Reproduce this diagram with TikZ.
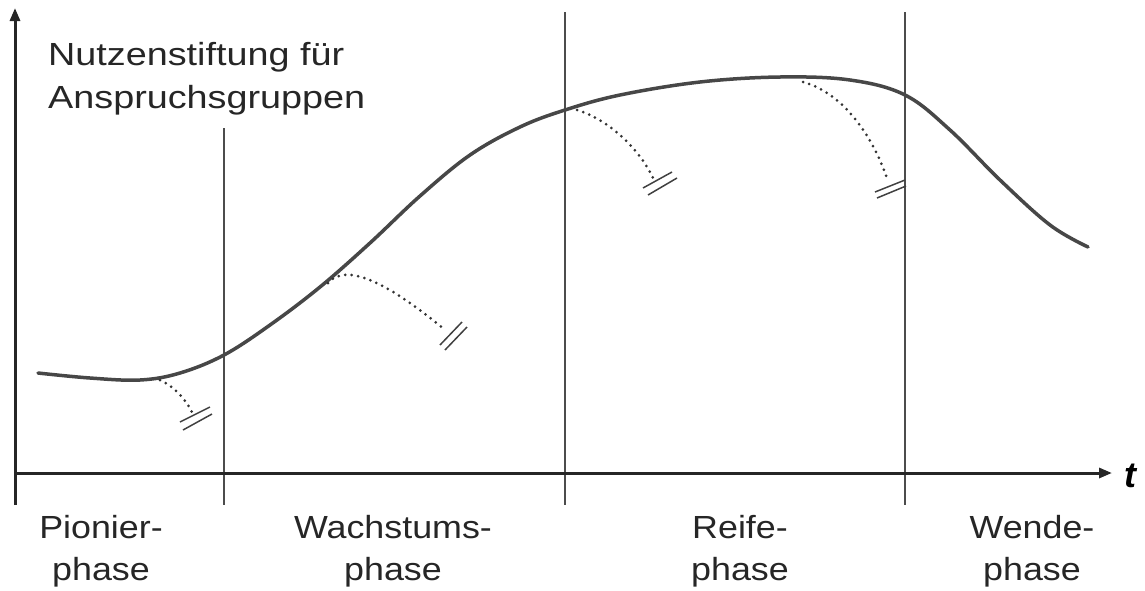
\documentclass[tikz,border=0pt]{standalone}
\usepackage{fontspec}
\setmainfont{Liberation Sans}
\newfontfamily\widefont[FakeStretch=1.18]{Liberation Sans}
\newfontfamily\phasefont[FakeStretch=1.12]{Liberation Sans}
\usetikzlibrary{arrows.meta}
\begin{document}
\begin{tikzpicture}[x=1pt,y=-1pt,
  axis/.style={line width=3pt,draw=black!85,-{Triangle[length=13pt,width=10pt]}},
  divider/.style={line width=1.1pt,draw=black!70},
  lifecurve/.style={line width=3.5pt,draw=black!72,line cap=round},
  branch/.style={line width=3pt,draw=black!80,line cap=round,dash pattern=on 0pt off 6.5pt},
  breakmark/.style={line width=1.5pt,draw=black!75},
  phaselbl/.style={font=\phasefont\fontsize{32}{42}\selectfont,align=center,inner sep=0pt,anchor=north,text=black!85},
  ylbl/.style={font=\widefont\fontsize{32}{43}\selectfont,align=left,inner sep=0pt,anchor=north west,text=black!85}]
\useasboundingbox (0,0) rectangle (1145,590);

% dividers
\draw[divider] (224,128) -- (224,505);
\draw[divider] (565,12) -- (565,505);
\draw[divider] (905,12) -- (905,505);

% axes
\coordinate (origin) at (15,473);
\coordinate (ybot) at (15,505);
\coordinate (ytop) at (15,8);
\coordinate (xend) at (1112,473);
\draw[axis] (ybot) -- (ytop);
\draw[axis] (origin) -- (xend);
\node[font=\fontsize{36}{36}\selectfont\bfseries\itshape,inner sep=0pt] (tlbl) at (1130,476) {t};

% main curve
\draw[lifecurve] plot[smooth,tension=0.6] coordinates {(38,373) (90,378) (140,380) (180,373) (224,355) (270,325) (320,287) (370,243) (420,196) (470,155) (520,127) (565,110) (620,95) (700,82) (780,77) (850,80) (905,95) (950,130) (1000,180) (1050,225) (1088,247)};

% dotted branches
\coordinate (b1) at (160,380); \coordinate (e1) at (192,412);
\coordinate (b2) at (328,283); \coordinate (e2) at (445,330);
\coordinate (b3) at (577,110); \coordinate (e3) at (653,178);
\coordinate (b4) at (803,82);  \coordinate (e4) at (887,178);
\draw[branch] (b1) .. controls (172,385) and (185,398) .. (e1);
\draw[branch] (b2) .. controls (345,263) and (385,280) .. (e2);
\draw[branch] (b3) .. controls (610,120) and (640,150) .. (e3);
\draw[branch] (b4) .. controls (840,92) and (870,130) .. (e4);

% break marks
\draw[breakmark] (180,422) -- (210,407) (183,430) -- (212,414);
\draw[breakmark] (440,345) -- (462,322) (445,350) -- (467,327);
\draw[breakmark] (643,188) -- (672,172) (648,195) -- (677,178);
\draw[breakmark] (875,192) -- (905,180) (877,198) -- (906,186);

% labels
\node[ylbl] (ylabel) at (48,42) {Nutzenstiftung für\\Anspruchsgruppen};
\node[phaselbl] (p1) at (101,515) {Pionier-\\phase};
\node[phaselbl] (p2) at (393,515) {Wachstums-\\phase};
\node[phaselbl] (p3) at (740,515) {Reife-\\phase};
\node[phaselbl] (p4) at (1032,515) {Wende-\\phase};
\end{tikzpicture}
\end{document}
